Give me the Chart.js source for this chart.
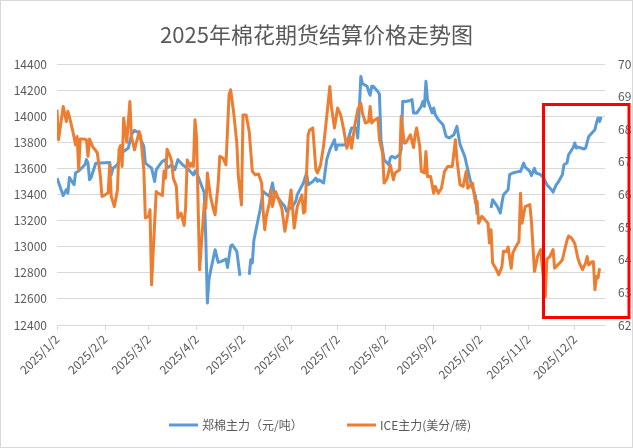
<!DOCTYPE html>
<html>
<head>
<meta charset="utf-8">
<script src="https://cdn.jsdelivr.net/npm/chart.js@4.4.1/dist/chart.umd.min.js"></script>
<style>
  html, body { margin: 0; padding: 0; background: #fff; }
  canvas { display: block; }
</style>
</head>
<body>
<canvas id="myChart" width="633" height="448"></canvas>
<script>
var chartTitle = '2025年棉花期货结算价格走势图';
var seriesNames = ['郑棉主力（元/吨）', 'ICE主力(美分/磅)'];

// month ticks on the date axis
var tickDates = ['01-02','02-02','03-02','04-02','05-02','06-02','07-02','08-02','09-02','10-02','11-02','12-02'];
var tickLabels = ['2025/1/2','2025/2/2','2025/3/2','2025/4/2','2025/5/2','2025/6/2','2025/7/2','2025/8/2','2025/9/2','2025/10/2','2025/11/2','2025/12/2'];

// 郑棉主力 (yuan/ton), null = no trading (holiday gap)
var zzDates = ['01-02','01-06','01-08','01-09','01-10','01-13','01-14','01-16','01-20','01-21','01-22','01-23','01-24','01-27',
  '02-05','02-06','02-07','02-10','02-12','02-14','02-17','02-19','02-21','02-24','02-25','02-27','02-28',
  '03-04','03-06','03-07','03-11','03-13','03-14','03-17','03-19','03-21','03-24','03-26','03-28','03-31',
  '04-01','04-02','04-03','04-07','04-08','04-09','04-10','04-11','04-14','04-16','04-18','04-21','04-22','04-24','04-25','04-28','04-30',
  '05-02','05-06','05-07','05-08','05-09','05-13','05-15','05-16','05-19','05-21','05-22','05-23','05-27','05-29','05-30',
  '06-03','06-05','06-06','06-10','06-12','06-13','06-16','06-18','06-19','06-20','06-23','06-25','06-27','06-30',
  '07-01','07-02','07-04','07-07','07-09','07-11','07-14','07-15','07-16','07-17','07-18','07-21','07-22','07-23','07-24','07-25','07-28','07-29','07-30',
  '08-01','08-04','08-05','08-06','08-08','08-11','08-12','08-13','08-15','08-18','08-19','08-20','08-22','08-25','08-26','08-27','08-28','08-29',
  '09-01','09-02','09-03','09-05','09-08','09-10','09-12','09-15','09-17','09-19','09-22','09-24','09-26','09-29','09-30',
  '10-02','10-09','10-10','10-13','10-15','10-16','10-17','10-20','10-21','10-23','10-27','10-28','10-30','10-31',
  '11-03','11-04','11-06','11-07','11-10','11-12','11-14','11-17','11-18','11-20','11-21','11-24','11-25','11-27','11-28',
  '12-01','12-02','12-03','12-04','12-08','12-09','12-11','12-12','12-15','12-16','12-17','12-18','12-19'];
var zzValues = [13526,13391,13437,13410,13530,13475,13567,13580,13628,13667,13640,13513,13530,13640,
  13645,13550,13600,13628,13705,13730,13756,13858,13891,13871,13820,13770,13640,
  13602,13500,13590,13655,13667,13602,13628,13590,13667,13628,13610,13590,13550,
  13580,13560,13540,13414,13054,12568,12747,12811,12977,12880,12888,12905,12840,13003,13015,12965,12777,
  null,12785,12900,12875,13050,13283,13424,13411,13386,13488,13410,13399,13335,13309,13272,
  13309,13348,13399,13490,13565,13475,13500,13526,13500,13513,13488,13667,13743,13820,
  13743,13780,13780,13780,13833,13910,13910,13833,14050,14305,14250,14230,14190,14160,14230,14230,14190,14170,13820,
  13667,13628,13680,13692,13680,13705,13743,14113,14113,14120,14128,14024,14024,14075,14113,14075,14267,14126,
  14024,14063,14012,13973,13935,13845,13833,13858,13922,13782,13693,13590,13488,13386,13245,
  null,13296,13360,13309,13258,13335,13398,13437,13552,13565,13577,13577,13641,13611,
  13577,13545,13600,13565,13552,13526,13475,13437,13418,13475,13488,13552,13628,13641,13705,
  13760,13795,13756,13764,13749,13756,13845,13858,13897,13948,13986,13960,13996];

// ICE主力 (cents/lb)
var iceDates = ['01-02','01-03','01-06','01-08','01-09','01-10','01-12','01-14','01-15','01-16','01-17','01-19','01-21','01-22','01-23','01-25','01-28','01-30','01-31',
  '02-02','02-04','02-05','02-06','02-08','02-10','02-11','02-12','02-13','02-14','02-16','02-18','02-19','02-21','02-24','02-25','02-27','02-28',
  '03-02','03-03','03-04','03-07','03-08','03-11','03-12','03-13','03-14','03-16','03-17','03-18','03-20','03-21','03-23','03-25','03-26','03-27','03-29','03-30','03-31',
  '04-01','04-02','04-04','04-07','04-08','04-09','04-11','04-13','04-14','04-16','04-17','04-19','04-21','04-23','04-24','04-26','04-28','04-29',
  '05-01','05-02','05-04','05-06','05-08','05-10','05-12','05-14','05-15','05-16','05-17','05-19','05-20','05-21','05-23','05-25','05-27','05-29','05-31',
  '06-02','06-04','06-06','06-09','06-10','06-11','06-13','06-14','06-16','06-18','06-19','06-21','06-23','06-25','06-27','06-28','06-30',
  '07-02','07-04','07-06','07-08','07-10','07-11','07-13','07-15','07-17','07-18','07-20','07-22','07-23','07-24','07-26','07-28','07-29','07-31',
  '08-01','08-03','08-05','08-07','08-08','08-11','08-12','08-14','08-15','08-18','08-20','08-21','08-22','08-24','08-25','08-27','08-28','08-29','08-31',
  '09-02','09-03','09-05','09-07','09-09','09-11','09-14','09-16','09-17','09-19','09-21','09-23','09-24','09-27','09-29','09-30',
  '10-01','10-03','10-05','10-07','10-08','10-09','10-10','10-12','10-14','10-16','10-17','10-19','10-20','10-22','10-23','10-25','10-27','10-28','10-29','10-31',
  '11-03','11-04','11-06','11-08','11-10','11-11','11-13','11-14','11-16','11-18','11-19','11-21','11-23','11-24','11-26','11-27','11-28','11-30',
  '12-02','12-04','12-05','12-07','12-09','12-10','12-11','12-13','12-14','12-15','12-16','12-17','12-18'];
var iceValues = [68.60,67.68,68.70,68.24,68.55,68.39,67.98,67.52,67.78,66.76,67.70,67.70,67.68,67.17,67.70,67.47,67.28,66.55,65.94,
  65.99,66.05,66.91,65.94,65.63,66.14,67.37,67.50,66.86,68.34,67.60,68.85,67.78,67.37,67.93,67.78,66.76,65.28,
  65.33,65.53,63.23,66.09,66.04,65.97,66.71,66.50,67.39,67.17,67.01,66.50,66.25,65.28,65.43,65.05,65.63,67.06,66.86,66.96,66.86,
  68.29,67.78,63.69,65.74,65.58,66.66,65.94,65.53,65.38,66.35,67.17,67.12,66.91,69.06,69.21,68.50,67.58,66.55,
  65.68,68.44,68.44,67.93,66.71,66.60,66.63,66.35,65.48,64.92,65.33,65.74,66.14,65.63,66.09,65.84,65.58,64.87,65.43,
  66.14,64.97,65.63,65.99,65.43,65.48,67.83,67.98,68.04,66.76,66.66,66.90,67.50,68.39,69.31,68.70,68.04,
  68.65,68.44,67.98,67.42,67.78,67.42,68.09,68.60,68.80,68.50,68.19,68.24,68.70,68.19,68.29,68.34,67.68,67.27,
  66.35,66.50,66.91,66.45,66.66,66.76,68.39,67.58,67.58,67.83,67.44,67.83,68.04,67.48,66.71,66.66,67.32,66.55,66.55,
  66.04,66.25,66.04,66.19,66.71,66.86,66.86,67.68,67.06,66.30,66.25,66.71,66.19,66.35,65.74,65.79,
  65.12,65.33,65.23,65.12,64.51,64.92,63.90,63.74,63.54,63.79,64.26,64.25,64.39,63.74,64.20,64.40,64.56,66.04,65.12,65.63,
  65.69,65.20,63.64,64.10,64.31,63.79,62.87,64.02,64.10,64.31,63.74,63.84,63.94,64.00,64.40,64.60,64.73,64.66,
  64.50,64.05,63.90,63.70,63.90,64.10,63.84,63.94,63.94,63.08,63.49,63.44,63.74];

var FONT = '"Noto Sans CJK SC", "Noto Sans", sans-serif';
var TEXT = '#595959';
var GRID = '#d9d9d9';
var BLUE = '#5B9BD5';
var ORANGE = '#ED7D31';

function dayIndex(md) {
    var p = md.split('-');
    return (Date.UTC(2025, p[0] - 1, +p[1]) - Date.UTC(2025, 0, 2)) / 86400000;
}
function toPoints(dates, values) {
    var pts = [];
    for (var i = 0; i < dates.length; i++) {
        pts.push({x: dayIndex(dates[i]), y: values[i]});
    }
    return pts;
}

// title, legend, outline and the red box
var decorations = {
    id: 'decorations',
    afterDraw: function(chart) {
        var ctx = chart.ctx;
        ctx.save();
        ctx.strokeStyle = GRID;
        ctx.lineWidth = 1;
        ctx.strokeRect(0.5, 0.5, chart.width - 1, chart.height - 1);

        ctx.fillStyle = TEXT;
        ctx.font = '22px ' + FONT;
        ctx.textAlign = 'center';
        ctx.textBaseline = 'middle';
        ctx.fillText(chartTitle, chart.width / 2, 35);

        ctx.font = '12px ' + FONT;
        ctx.textAlign = 'left';
        var items = [{x: 169, c: BLUE, t: seriesNames[0]}, {x: 347, c: ORANGE, t: seriesNames[1]}];
        items.forEach(function(it) {
            ctx.strokeStyle = it.c;
            ctx.lineWidth = 3;
            ctx.beginPath();
            ctx.moveTo(it.x, 425);
            ctx.lineTo(it.x + 29, 425);
            ctx.stroke();
            ctx.fillStyle = TEXT;
            ctx.fillText(it.t, it.x + 33, 425);
        });

        ctx.strokeStyle = '#FF0000';
        ctx.lineWidth = 3;
        ctx.strokeRect(543.5, 104.5, 85.5, 213);
        ctx.restore();
    }
};

var ctx = document.getElementById('myChart').getContext('2d');
var chart = new Chart(ctx, {
    type: 'line',
    data: {
        datasets: [{
            label: seriesNames[0],
            data: toPoints(zzDates, zzValues),
            yAxisID: 'y',
            borderColor: BLUE,
            backgroundColor: BLUE,
            borderWidth: 3,
            pointRadius: 0,
            tension: 0,
            spanGaps: false,
            borderJoinStyle: 'round',
            order: 1
        }, {
            label: seriesNames[1],
            data: toPoints(iceDates, iceValues),
            yAxisID: 'y1',
            borderColor: ORANGE,
            backgroundColor: ORANGE,
            borderWidth: 3,
            pointRadius: 0,
            tension: 0,
            spanGaps: false,
            borderJoinStyle: 'round',
            order: 0
        }]
    },
    options: {
        responsive: false,
        animation: false,
        devicePixelRatio: 1,
        layout: { padding: { top: 64, left: 0, right: 0, bottom: 0 } },
        plugins: {
            legend: { display: false },
            title: { display: false },
            tooltip: { enabled: false }
        },
        scales: {
            x: {
                type: 'linear',
                min: 0,
                max: 353.5,
                afterBuildTicks: function(s) {
                    s.ticks = tickDates.map(function(d) { return {value: dayIndex(d)}; });
                },
                afterFit: function(s) { s.height = 123; },
                ticks: {
                    autoSkip: false,
                    maxRotation: 45,
                    minRotation: 45,
                    color: TEXT,
                    padding: 2,
                    font: { size: 12, family: FONT },
                    callback: function(v, i) { return tickLabels[i]; }
                },
                grid: { drawOnChartArea: false, drawTicks: true, tickLength: 5, color: GRID },
                border: { color: GRID }
            },
            y: {
                position: 'left',
                min: 12400,
                max: 14400,
                afterFit: function(s) { s.width = 57; },
                ticks: {
                    stepSize: 200, color: TEXT, padding: 10, font: { size: 12, family: FONT },
                    callback: function(v) { return String(v); }
                },
                grid: { color: GRID, drawTicks: false },
                border: { display: false }
            },
            y1: {
                position: 'right',
                min: 62,
                max: 70,
                afterFit: function(s) { s.width = 28; },
                ticks: {
                    stepSize: 1, color: TEXT, padding: 5, font: { size: 12, family: FONT },
                    callback: function(v) { return String(v); }
                },
                grid: { display: false },
                border: { display: false }
            }
        }
    },
    plugins: [decorations]
});
</script>
</body>
</html>
